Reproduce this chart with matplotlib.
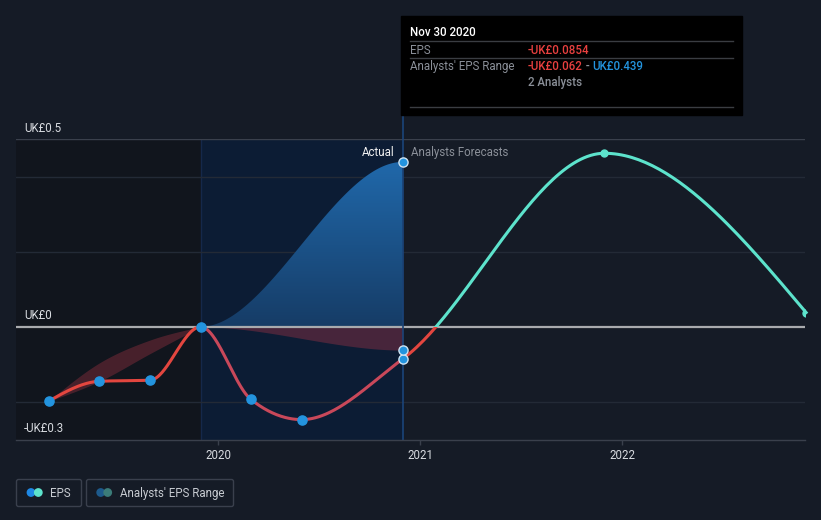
import numpy as np
import matplotlib
matplotlib.use('Agg')
import matplotlib.pyplot as plt
import matplotlib.dates as mdates
from matplotlib.patches import FancyBboxPatch, Rectangle, Circle

plt.rcParams['font.family'] = ['Roboto', 'DejaVu Sans']

# ---------------- data ----------------
eps_dates = ['2019-02-28', '2019-05-31', '2019-08-31', '2019-11-30',
             '2020-02-29', '2020-05-31', '2020-11-30']
eps_values = [-0.198, -0.145, -0.142, 0.0, -0.193, -0.247, -0.0854]

range_past_dates = ['2019-02-28', '2019-05-31', '2019-08-31', '2019-11-30']
range_past_low = [-0.198, -0.145, -0.071, 0.0]
range_past_high = [-0.198, -0.096, -0.035, 0.0]

range_fc_dates = ['2019-11-30', '2020-11-30']
range_fc_low = [0.0, -0.062]
range_fc_high = [0.0, 0.439]

forecast_dates = ['2020-11-30', '2021-11-30', '2022-11-30']
forecast_values = [-0.0854, 0.462, 0.038]

year_ticks = ['2020', '2021', '2022']
y_label_values = [0.5, 0.0, -0.3]
y_label_texts = ['UK£0.5', 'UK£0', '-UK£0.3']
grid_values = [0.4, 0.2, -0.2]

# ---------------- colours ----------------
BG = '#151b26'
LEFT_BG = '#11151d'
HL_BG = '#0c1c34'
RED = '#e3463f'
RED_TINT = '#c9485a'
GREEN = '#5de3cc'
BLUE = '#2394df'
TXT = '#d8dbe0'
GREY = '#8b9099'


def d(s):
    return mdates.datestr2num(s)


def hermite(xs, ys, t, n=60):
    X, Y = [], []
    for i in range(len(xs) - 1):
        u = np.linspace(0, 1, n)
        hh = xs[i + 1] - xs[i]
        h00 = 2 * u**3 - 3 * u**2 + 1
        h10 = u**3 - 2 * u**2 + u
        h01 = -2 * u**3 + 3 * u**2
        h11 = u**3 - u**2
        X.append(xs[i] + u * hh)
        Y.append(h00 * ys[i] + h10 * hh * t[i] + h01 * ys[i + 1] + h11 * hh * t[i + 1])
    return np.concatenate(X), np.concatenate(Y)


def monotone(xs, ys, n=60):
    xs = np.asarray(xs, float)
    ys = np.asarray(ys, float)
    h = np.diff(xs)
    s = np.diff(ys) / h
    m = len(xs)
    t = np.zeros(m)
    if m > 2:
        for i in range(1, m - 1):
            h0, h1, s0, s1 = h[i - 1], h[i], s[i - 1], s[i]
            p = (s0 * h1 + s1 * h0) / (h0 + h1)
            t[i] = (np.sign(s0) + np.sign(s1)) * min(abs(s0), abs(s1), 0.5 * abs(p))
        t[0] = (3 * s[0] - t[1]) / 2
        t[-1] = (3 * s[-1] - t[-2]) / 2
    else:
        t[:] = s[0]
    return hermite(xs, ys, t, n)


def smooth2(xs, ys, n=120):
    xs = np.asarray(xs, float)
    ys = np.asarray(ys, float)
    return hermite(xs, ys, np.zeros(len(xs)), n)


W, H = 821, 520
fig = plt.figure(figsize=(W / 100, H / 100), dpi=100, facecolor=BG)
ax = fig.add_axes([16 / W, (H - 439.5) / H, (805 - 16) / W, (439.5 - 139) / H])
ax.set_facecolor(BG)

x_min, x_max = d('2018-12-31'), d('2022-11-28')
ax.set_xlim(x_min, x_max)
ax.set_ylim(-0.3, 0.5)

x_hl0, x_hl1 = d(eps_dates[3]), d(eps_dates[-1])

# background regions
ax.axvspan(x_min, x_hl0, color=LEFT_BG, zorder=0, lw=0)
ax.axvspan(x_hl0, x_hl1, color=HL_BG, zorder=0, lw=0)
ax.axvline(x_hl0, color='#15284a', lw=1, zorder=0.5)

# grid
for g in grid_values:
    ax.axhline(g, color='#232a36', lw=1, zorder=0.6)
ax.axhline(0.5, color='#3a404c', lw=1, zorder=0.6)

# past analyst range band
rx = [d(s) for s in range_past_dates]
xl, yl = monotone(rx, range_past_low)
xh, yh = monotone(rx, range_past_high)
ax.fill_between(xl, yl, yh, color='#b8384a', alpha=0.33, lw=0, zorder=1)

# forecast-period range band
fx = [d(s) for s in range_fc_dates]
fxl, fyl = smooth2(fx, range_fc_low)
fxh, fyh = smooth2(fx, range_fc_high)
ax.fill_between(fxl, fyl, np.minimum(fyh, 0), where=fyl < 0, color='#c0394a', alpha=0.33,
                lw=0, zorder=1)
blue_poly = ax.fill_between(fxh, np.maximum(fyl, 0), fyh, color='none', lw=0, zorder=1)
top_c = np.array([0x20, 0x68, 0xaa]) / 255
bot_c = np.array([0x16, 0x3c, 0x66]) / 255
grad = np.linspace(0, 1, 256)[:, None]
img = (bot_c[None, None, :] * (1 - grad[..., None]) + top_c[None, None, :] * grad[..., None])
img = np.repeat(img, 2, axis=1)
im = ax.imshow(img, extent=[fx[0], fx[1], 0, max(range_fc_high)], origin='lower',
               aspect='auto', zorder=1.1, interpolation='bilinear')
im.set_clip_path(blue_poly.get_paths()[0], ax.transData)

# zero line
ax.axhline(0, color='#a9abae', lw=1.6, zorder=2)

# EPS line: actuals continued by forecasts as one smooth curve
ex = [d(s) for s in eps_dates]
fcx = [d(s) for s in forecast_dates]
all_x = ex + fcx[1:]
all_y = eps_values + forecast_values[1:]
cx, cy = monotone(all_x, all_y)
big = 5000
l_out = ax.plot(cx, cy, color=RED, lw=2.2, zorder=3, solid_capstyle='round')[0]
l_out.set_clip_path(Rectangle((x_min, -1), x_hl0 - x_min, 2, transform=ax.transData))
l_in = ax.plot(cx, cy, color=RED_TINT, lw=2.2, zorder=3, solid_capstyle='round')[0]
l_in.set_clip_path(Rectangle((x_hl0, -1), x_hl1 - x_hl0, 2, transform=ax.transData))
lg = ax.plot(cx, cy, color=GREEN, lw=2.2, zorder=3)[0]
lg.set_clip_path(Rectangle((x_hl1, 0), big, 2, transform=ax.transData))
lr = ax.plot(cx, cy, color=RED, lw=2.2, zorder=3)[0]
lr.set_clip_path(Rectangle((x_hl1, -1), big, 1, transform=ax.transData))

# highlight vertical line at last actual
ax.axvline(x_hl1, ymin=0, ymax=1 + (139 - 115) / 300.5, color='#1b4479', lw=1.2,
           zorder=2.5, clip_on=False)

# markers
ax.plot(ex[:-1], eps_values[:-1], 'o', color=BLUE, ms=6.6, mec=BLUE, zorder=5)
ax.plot([ex[-1]] * 3, [eps_values[-1], range_fc_low[-1], range_fc_high[-1]], 'o',
        color=BLUE, ms=6.6, mec='#cfe3f2', mew=1.0, zorder=5)
ax.plot(fcx[1:], forecast_values[1:], 'o', color=GREEN, ms=5, zorder=5)

# axes styling
for sp in ['top', 'left', 'right']:
    ax.spines[sp].set_visible(False)
ax.spines['bottom'].set_color('#3a404c')
ax.spines['bottom'].set_linewidth(1)
ax.set_yticks([])
ax.set_xticks([d(y + '-01-01') for y in year_ticks])
ax.set_xticklabels(year_ticks)
ax.tick_params(axis='x', colors='#3a404c', labelcolor=TXT, labelsize=8.3, length=3.5,
               width=1, pad=3)

fs = 8.3
for v, t in zip(y_label_values, y_label_texts):
    ax.annotate(t, xy=(0, v), xycoords=('axes fraction', 'data'), xytext=(8, 11),
                textcoords='offset pixels', ha='left', va='center', color=TXT, fontsize=fs)

ax.annotate('Actual', xy=(x_hl1, 0.5), xytext=(-8, -13.5), textcoords='offset pixels',
            ha='right', va='center', color='#f0f0f0', fontsize=fs)
ax.annotate('Analysts Forecasts', xy=(x_hl1, 0.5), xytext=(8, -13.5), textcoords='offset pixels',
            ha='left', va='center', color=GREY, fontsize=fs)

# ---------------- overlay (tooltip and legend) ----------------
ov = fig.add_axes([0, 0, 1, 1], zorder=10)
ov.set_xlim(0, W)
ov.set_ylim(H, 0)
ov.axis('off')
ov.patch.set_visible(False)

ov.add_patch(Rectangle((401, 16), 341, 99, color='black', zorder=1))
for yy in (40.5, 57.5, 106.5):
    ov.plot([410, 733], [yy, yy], color='#3a3d42', lw=1, zorder=2)
dy = 1.5
ov.text(410, 31 + dy, 'Nov 30 2020', color='white', fontsize=fs, va='center', ha='left',
        fontweight=500, zorder=3)
ov.text(410, 48.5 + dy, 'EPS', color=GREY, fontsize=fs, va='center', zorder=3)
ov.text(528, 48.5 + dy, '-UK£0.0854', color='#e8403f', fontsize=fs, va='center',
        fontweight=500, zorder=3)
ov.text(410, 65 + dy, "Analysts' EPS Range", color=GREY, fontsize=fs, va='center', zorder=3)
ov.text(528, 81 + dy, '2 Analysts', color=GREY, fontsize=fs, va='center', fontweight=500,
        zorder=3)

renderer = fig.canvas.get_renderer()
xpos = 528
for part, col in [('-UK£0.062', '#e8403f'), (' - ', GREY), ('UK£0.439', BLUE)]:
    tt = ov.text(xpos, 65 + dy, part, color=col, fontsize=fs, va='center', fontweight=500,
                 zorder=3)
    bb = tt.get_window_extent(renderer=renderer)
    xpos += bb.width

# legend
ov.add_patch(FancyBboxPatch((16.5, 479.5), 65, 27, boxstyle='round,pad=0,rounding_size=2',
                            fc='none', ec='#3a404d', lw=1))
ov.add_patch(FancyBboxPatch((86.5, 479.5), 147, 27, boxstyle='round,pad=0,rounding_size=2',
                            fc='none', ec='#3a404d', lw=1))
ov.add_patch(Circle((31, 492.5), 4.4, color='#1e88e5', lw=0))
ov.add_patch(Circle((38.3, 492.5), 4.4, color=GREEN, lw=0))
ov.add_patch(Circle((100.7, 492.5), 4.4, color='#1d5a8c', lw=0))
ov.add_patch(Circle((107.7, 492.5), 4.4, color='#3b7c79', lw=0))
ov.text(50, 493.5, 'EPS', color='#c8ccd2', fontsize=fs, va='center')
ov.text(120, 493.5, "Analysts' EPS Range", color='#c8ccd2', fontsize=fs, va='center')

fig.savefig('out.png', dpi=100, facecolor=BG)
